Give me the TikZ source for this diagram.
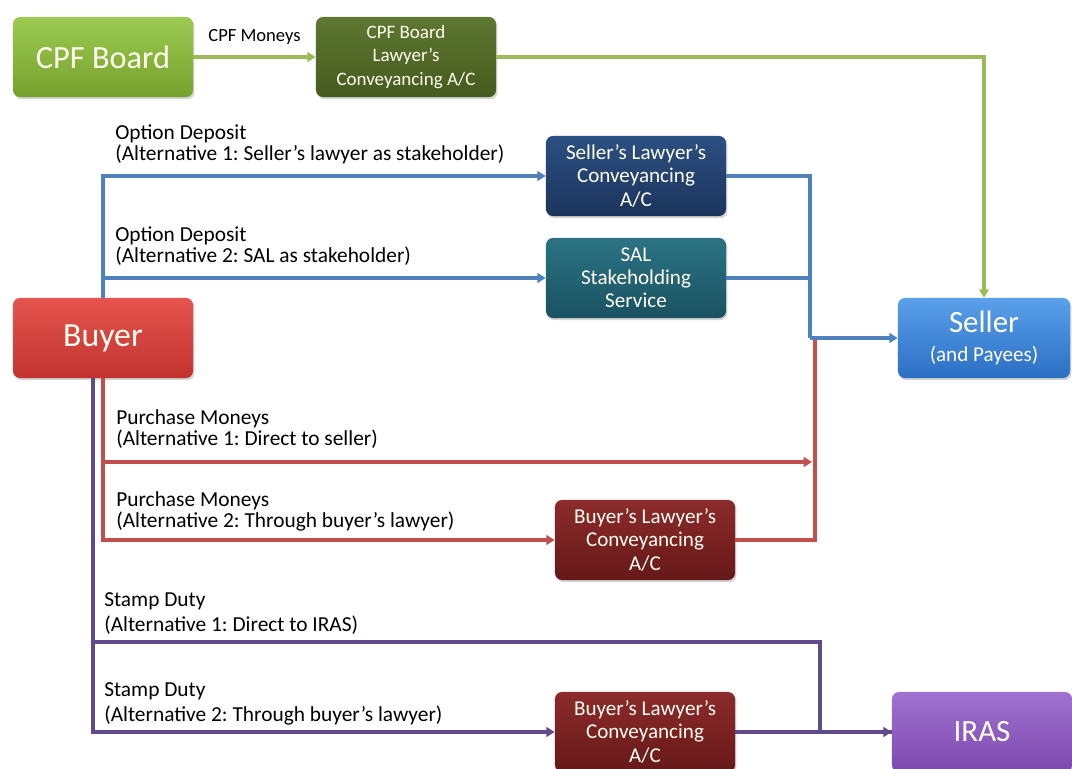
\documentclass[tikz,border=0pt]{standalone}
\usepackage{fontspec}
\setmainfont{Carlito}
\usepackage{xcolor}
\usetikzlibrary{arrows.meta,calc,positioning,shadows}
\definecolor{gline}{HTML}{9BBB59}
\definecolor{bline}{HTML}{4F81BD}
\definecolor{rline}{HTML}{C0504D}
\definecolor{pline}{HTML}{5F4B8B}
\definecolor{cpfA}{HTML}{9DCA52}
\definecolor{cpfB}{HTML}{76A12D}
\definecolor{cpflA}{HTML}{5E7731}
\definecolor{cpflB}{HTML}{465B1F}
\definecolor{slA}{HTML}{2C4F82}
\definecolor{slB}{HTML}{1B355C}
\definecolor{salA}{HTML}{2B7384}
\definecolor{salB}{HTML}{1A5262}
\definecolor{sellA}{HTML}{5AA0EA}
\definecolor{sellB}{HTML}{2B6FC4}
\definecolor{buyA}{HTML}{E5544E}
\definecolor{buyB}{HTML}{C23330}
\definecolor{blA}{HTML}{8C2B2B}
\definecolor{blB}{HTML}{661818}
\definecolor{irasA}{HTML}{A173D0}
\definecolor{irasB}{HTML}{7B48AE}
\newcommand{\fs}[2]{\fontsize{#1}{#2}\selectfont}
\frenchspacing

\begin{document}
\begin{tikzpicture}[x=0.025cm,y=-0.025cm,>={Triangle[length=6pt,width=7pt]},
  box/.style={rounded corners=5pt,minimum width=4.5cm,minimum height=2cm,align=center,text=white!94!yellow,inner sep=2pt,
    drop shadow={opacity=0.35,shadow xshift=1pt,shadow yshift=-1.5pt}},
  lab/.style={anchor=north west,align=left,inner sep=0pt,font=\fs{15.2}{15}},
  flow/.style={line width=2.6pt}]
  \useasboundingbox (0,0) rectangle (1072,769);
  \node[box,top color=cpfA,bottom color=cpfB,font=\fs{23}{26}] (cpf) at (103,57) {CPF Board};
  \node[box,top color=cpflA,bottom color=cpflB,font=\fs{13.5}{17}] (cpfl) at (406,57) {CPF Board\\Lawyer’s\\Conveyancing A/C};
  \node[box,top color=slA,bottom color=slB,font=\fs{15}{16.5}] (sl) at (636,176) {Seller’s Lawyer’s\\Conveyancing\\A/C};
  \node[box,top color=salA,bottom color=salB,font=\fs{15}{16.5}] (sal) at (636,278) {SAL\\Stakeholding\\Service};
  \node[box,minimum width=4.3cm,top color=sellA,bottom color=sellB,font=\fs{22}{20}] (sell) at (984,338) {Seller\\{\fs{15}{17}(and Payees)}};
  \node[box,top color=buyA,bottom color=buyB,font=\fs{24}{26}] (buy) at (103,338) {Buyer};
  \node[box,top color=blA,bottom color=blB,font=\fs{15}{16.5}] (bl1) at (645,540) {Buyer’s Lawyer’s\\Conveyancing\\A/C};
  \node[box,top color=blA,bottom color=blB,font=\fs{15}{16.5}] (bl2) at (645,732) {Buyer’s Lawyer’s\\Conveyancing\\A/C};
  \node[box,top color=irasA,bottom color=irasB,font=\fs{22}{24}] (iras) at (982,732) {IRAS};
  \coordinate (bj) at (sell.west -| 810,0);
  \coordinate (rj) at (sell.west -| 815,0);
  \coordinate (pmj) at (812,462);
  \coordinate (pb) at ($(buy.south)+(-10,0)$);
  \coordinate (sdj) at (820,642);
  \draw[flow,gline,->] (cpf) -- node[above=4pt,text=black,font=\fs{13.2}{16}] (cpfm) {CPF Moneys} (cpfl);
  \draw[flow,gline,->] (cpfl) -| (sell);
  \draw[flow,bline,->] (buy.north) |- (sl);
  \draw[flow,bline,->] (buy.north) |- (sal);
  \draw[flow,bline] (sl) -| (bj);
  \draw[flow,bline] (sal) -| (bj);
  \draw[flow,rline] (bl1) -| (rj);
  \draw[flow,bline,->] (bj) -- (sell);
  \draw[flow,rline,->] (buy.south) |- (pmj);
  \draw[flow,rline,->] (buy.south) |- (bl1);
  \draw[flow,pline] (pb) |- (sdj) |- (iras);
  \draw[flow,pline,->] (pb) |- (bl2);
  \draw[flow,pline,->] (bl2) -- (iras);
  \node[lab] (od1) at (115,124) {Option Deposit\\(Alternative 1: Seller’s lawyer as stakeholder)};
  \node[lab] (od2) at (115,226) {Option Deposit\\(Alternative 2: SAL as stakeholder)};
  \node[lab] (pm1) at (116,409) {Purchase Moneys\\(Alternative 1: Direct to seller)};
  \node[lab] (pm2) at (116,491) {Purchase Moneys\\(Alternative 2: Through buyer’s lawyer)};
  \node[lab,font=\fs{15.2}{18}] (sd1) at (104,592) {Stamp Duty\\(Alternative 1: Direct to IRAS)};
  \node[lab,font=\fs{15.2}{18}] (sd2) at (104,682) {Stamp Duty\\(Alternative 2: Through buyer’s lawyer)};
\end{tikzpicture}
\end{document}
